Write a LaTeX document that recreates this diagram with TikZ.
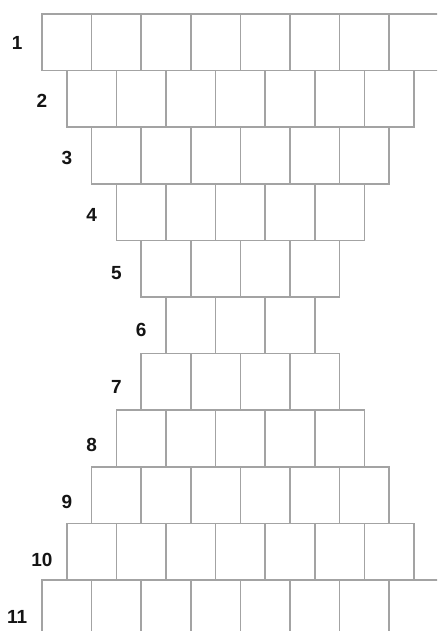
\documentclass[tikz,border=0pt]{standalone}
\usepackage{fontspec}
\setmainfont{Liberation Sans}
\begin{document}
\begin{tikzpicture}[x=1pt,y=-1pt,
  cell/.style={draw=black!36, line width=1.7pt},
  lab/.style={font=\bfseries\fontsize{19}{19}\selectfont, text=black!92, inner sep=0pt}]
\useasboundingbox (0,0) rectangle (437,631);
\fill[white] (0,0) rectangle (437,631);
\begin{scope}
\clip (0,0) rectangle (437,631);
\foreach \ri/\n in {1/8,2/7,3/6,4/5,5/4,6/3,7/4,8/5,9/6,10/7,11/8} {
  \pgfmathsetmacro\rx{42+(8-\n)*24.8}
  \pgfmathsetmacro\ry{14+(\ri-1)*56.6}
  \foreach \c in {1,...,\n} {
    \draw[cell] ({\rx+(\c-1)*49.6},\ry) rectangle ++(49.6,56.6);
  }
}
\end{scope}
\foreach \ri/\n in {1/8,2/7,3/6,4/5,5/4,6/3,7/4,8/5,9/6,10/7,11/8} {
  \pgfmathsetmacro\rx{42+(8-\n)*24.8}
  \node[lab] (lab\ri) at ({\rx-24.8}, {43+(\ri-1)*57.4}) {\ri};
}
\end{tikzpicture}
\end{document}
